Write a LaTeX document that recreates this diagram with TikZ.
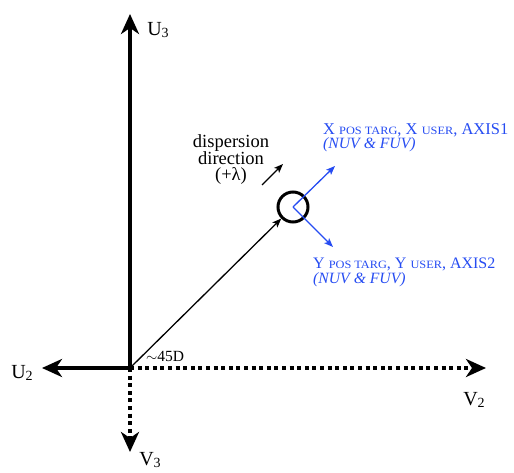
\documentclass[tikz,border=0pt]{standalone}
\usepackage{fontspec}
\usepackage{graphicx}
\setmainfont{Liberation Serif}
\usetikzlibrary{arrows.meta,positioning}
\definecolor{axisblue}{rgb}{0.15, 0.3, 0.95}
\newcommand{\lowsub}[1]{\raisebox{-0.3ex}{\fontsize{14}{14}\selectfont #1}}
\newcommand{\capsub}[1]{\scalebox{1.1}[1]{\fontsize{11.2}{12}\selectfont #1}}

\begin{document}
\begin{tikzpicture}[x=1pt,y=1pt,
  bigaxis/.style={line width=4.2pt,-{Stealth[length=20pt,width=18pt,inset=6pt]}},
  dotaxis/.style={bigaxis,dash pattern=on 4pt off 3.6pt},
  thinarrow/.style={line width=1.3pt,-{Stealth[length=9pt,width=7pt,inset=2pt]}},
  axislabel/.style={inner sep=0pt,font=\fontsize{20}{20}\selectfont},
  bluetext/.style={inner sep=0pt,text=axisblue,font=\fontsize{16.5}{16}\selectfont},
  bluenote/.style={bluetext,font=\fontsize{15.7}{16}\selectfont\itshape}]
\useasboundingbox (0,0) rectangle (514,472);
\coordinate (O) at (130,104);
\coordinate (u3tip) at (130,458);
\coordinate (u2tip) at (42,104);
\coordinate (v2tip) at (486,104);
\coordinate (v3tip) at (130,20);
\draw [dotaxis] (O) -- (v2tip);
\draw [dotaxis] (O) -- (v3tip);
\draw [bigaxis] (O) -- (u3tip);
\draw [bigaxis] (O) -- (u2tip);
\node[axislabel] (u3) at (158,442) {U\lowsub{3}};
\node[axislabel] (u2) at (22,99) {U\lowsub{2}};
\node[axislabel] (v2) at (474,72) {V\lowsub{2}};
\node[axislabel] (v3) at (150,12) {V\lowsub{3}};
\node[draw,circle,line width=3pt,minimum size=30pt,inner sep=0pt] (target) at (293,265) {};
\draw [thinarrow] (O) -- (target);
\node[anchor=base west,inner sep=0pt,font=\fontsize{15.5}{15}\selectfont] (angle) at (146,111) {$\sim$45D};
\coordinate (xtip) at (335,306);
\coordinate (ytip) at (333,225);
\draw [thinarrow,axisblue] (target.center) -- (xtip);
\draw [thinarrow,axisblue] (target.center) -- (ytip);
\coordinate (dstart) at (262,287);
\coordinate (dend) at (283,308);
\draw [thinarrow] (dstart) -- (dend);
\node[align=center,inner sep=0pt,anchor=north,font=\fontsize{18.5}{15.5}\selectfont] (disp) at (231,338) {dispersion\\direction\\(+λ)};
\node[bluetext,anchor=base west] (xlabel) at (323,337) {X \capsub{POS TARG}, X \capsub{USER}, AXIS1};
\node[bluenote,anchor=base west] (xnote) at (323,323) {(NUV \& FUV)};
\node[bluetext,anchor=base west,font=\fontsize{16}{16}\selectfont] (ylabel) at (313,204) {Y \capsub{POS TARG}, Y \capsub{USER}, AXIS2};
\node[bluenote,anchor=base west] (ynote) at (313,189) {(NUV \& FUV)};
\end{tikzpicture}
\end{document}
